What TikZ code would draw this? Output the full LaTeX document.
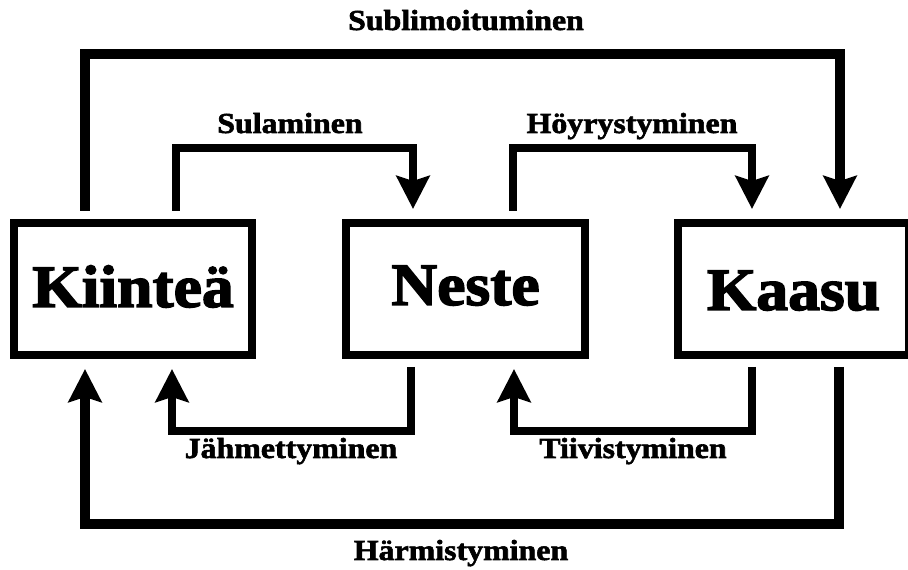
\documentclass[tikz,border=0pt]{standalone}
\usepackage{fontspec}
\setmainfont{Liberation Serif}
\newfontfamily\boxfont[FakeStretch=1.06,FakeBold=2.5]{Liberation Serif Bold}
\newfontfamily\labfont[FakeStretch=1.1,FakeBold=2]{Liberation Serif Bold}
\usetikzlibrary{arrows.meta,calc}
\tikzset{
  state/.style={draw, line width=8pt, minimum height=132pt, inner sep=0pt,
    text depth=0pt, font=\boxfont\fontsize{60}{62}\selectfont},
  lab/.style={anchor=base, inner sep=0pt, font=\labfont\fontsize{29}{30}\selectfont},
  thinconn/.style={line width=8pt},
  thickconn/.style={line width=10pt},
  arr/.style={-{Stealth[length=33pt,width=33pt,inset=5pt]}}
}
\begin{document}
\begin{tikzpicture}[x=1pt,y=1pt]
\useasboundingbox (0,0) rectangle (908,570);
\fill[white] (0,0) rectangle (908,570);
\node[state, minimum width=238pt, text height=36pt] (k) at (133,281) {Kiinteä};
\node[state, minimum width=239pt, text height=32pt] (n) at (465.5,281) {Neste};
\node[state, minimum width=231pt, text height=42pt] (g) at (793.5,281) {Kaasu};
% Sublimoituminen
\draw[thickconn,arr] ($(k.north-|85,0)+(0,8)$) -- (85,516) -- (840,516) -- ($(g.north-|840,0)+(0,10)$);
% Sulaminen
\draw[thinconn,arr] ($(k.north-|176,0)+(0,8)$) -- (176,422) -- (413,422) -- ($(n.north-|413,0)+(0,10)$);
% Hoyrystyminen
\draw[thinconn,arr] ($(n.north-|513,0)+(0,8)$) -- (513,422) -- (752,422) -- ($(g.north-|752,0)+(0,10)$);
% Jahmettyminen
\draw[thinconn,arr] ($(n.south-|411,0)+(0,-8)$) -- (411,139) -- (172,139) -- ($(k.south-|172,0)+(0,-10)$);
% Tiivistyminen
\draw[thinconn,arr] ($(g.south-|752,0)+(0,-8)$) -- (752,139) -- (514,139) -- ($(n.south-|514,0)+(0,-10)$);
% Harmistyminen
\draw[thickconn,arr] ($(g.south-|839,0)+(0,-8)$) -- (839,46) -- (85,46) -- ($(k.south-|85,0)+(0,-10)$);
% labels
\node[lab] (l1) at (466,540) {Sublimoituminen};
\node[lab] (l2) at (290,437) {Sulaminen};
\node[lab] (l3) at (632,437) {Höyrystyminen};
\node[lab] (l4) at (291,112) {Jähmettyminen};
\node[lab] (l5) at (633,112) {Tiivistyminen};
\node[lab] (l6) at (461,10) {Härmistyminen};
\end{tikzpicture}
\end{document}
